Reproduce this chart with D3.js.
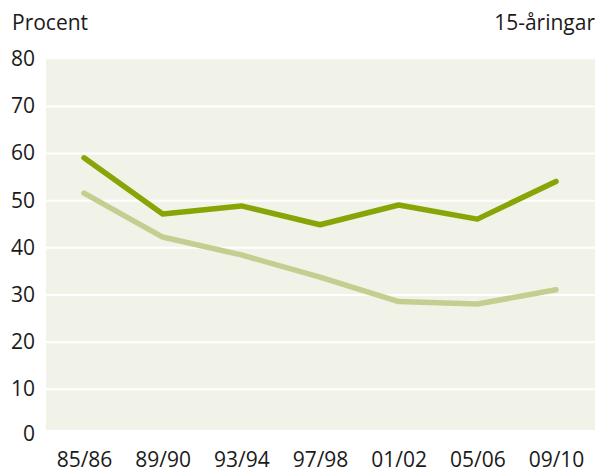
<!DOCTYPE html>
<html>
<head>
<meta charset="utf-8">
<script src="https://cdn.jsdelivr.net/npm/d3@7"></script>
<style>
  body { margin: 0; background: #fff; }
  text { font-family: "Open Sans", "Noto Sans", sans-serif; fill: #1a1a1a; }
</style>
</head>
<body>
<svg id="vis" width="595" height="473"></svg>
<script>
// periods on the x axis
var periods = ["85/86", "89/90", "93/94", "97/98", "01/02", "05/06", "09/10"];
// dark line
var seriesDark = [59.1, 47.2, 48.9, 44.9, 49.1, 46.1, 54.1];
// light line
var seriesLight = [51.6, 42.3, 38.5, 33.8, 28.6, 28.1, 31.1];
var yTicks = [0, 10, 20, 30, 40, 50, 60, 70, 80];

var svg = d3.select("#vis");

var plotLeft = 46, plotRight = 595, plotTop = 59.3, plotBottom = 430;

// y scale: 80 at top of the panel, 10 at 389
var y = d3.scaleLinear()
    .domain([10, 80])
    .range([389.3, 59.3]);

var x = d3.scalePoint()
    .domain(periods)
    .range([84, 556]);

// background panel
svg.append("rect")
    .attr("x", plotLeft)
    .attr("y", plotTop)
    .attr("width", plotRight - plotLeft)
    .attr("height", plotBottom - plotTop)
    .attr("fill", "#f2f3e8");

// white gridlines
svg.selectAll(".grid")
    .data(yTicks.filter(function(d){ return d > 0 && d < 80; }))
    .enter()
    .append("line")
    .attr("class", "grid")
    .attr("x1", plotLeft)
    .attr("x2", plotRight)
    .attr("y1", function(d){ return y(d); })
    .attr("y2", function(d){ return y(d); })
    .attr("stroke", "#fff")
    .attr("stroke-width", 2);

// y axis labels
var yAxis = d3.axisLeft(y).tickValues(yTicks).tickSize(0).tickPadding(0);
var gy = svg.append("g")
    .attr("transform", "translate(35,0)")
    .call(yAxis);
gy.select(".domain").remove();
gy.selectAll("text")
    .attr("font-size", 21)
    .attr("dy", "0.35em")
    .attr("y", function(d){ return d === 0 ? -3 : -1; });

// x axis labels
var xAxis = d3.axisBottom(x).tickSize(0).tickPadding(0);
var gx = svg.append("g")
    .attr("transform", "translate(0,452)")
    .call(xAxis);
gx.select(".domain").remove();
gx.selectAll("text")
    .attr("font-size", 21)
    .attr("dy", "0.71em");

// lines
var line = d3.line()
    .x(function(d, i){ return x(periods[i]); })
    .y(function(d){ return y(d); });

svg.append("path")
    .datum(seriesLight)
    .attr("d", line)
    .attr("fill", "none")
    .attr("stroke", "#c2cf90")
    .attr("stroke-width", 5.5)
    .attr("stroke-linejoin", "round")
    .attr("stroke-linecap", "round");

svg.append("path")
    .datum(seriesDark)
    .attr("d", line)
    .attr("fill", "none")
    .attr("stroke", "#88a507")
    .attr("stroke-width", 5.5)
    .attr("stroke-linejoin", "round")
    .attr("stroke-linecap", "round");

// titles
svg.append("text")
    .attr("x", 12)
    .attr("y", 30)
    .attr("font-size", 21)
    .text("Procent");

svg.append("text")
    .attr("x", 595)
    .attr("y", 30)
    .attr("font-size", 21)
    .attr("text-anchor", "end")
    .text("15-åringar");
</script>
</body>
</html>
